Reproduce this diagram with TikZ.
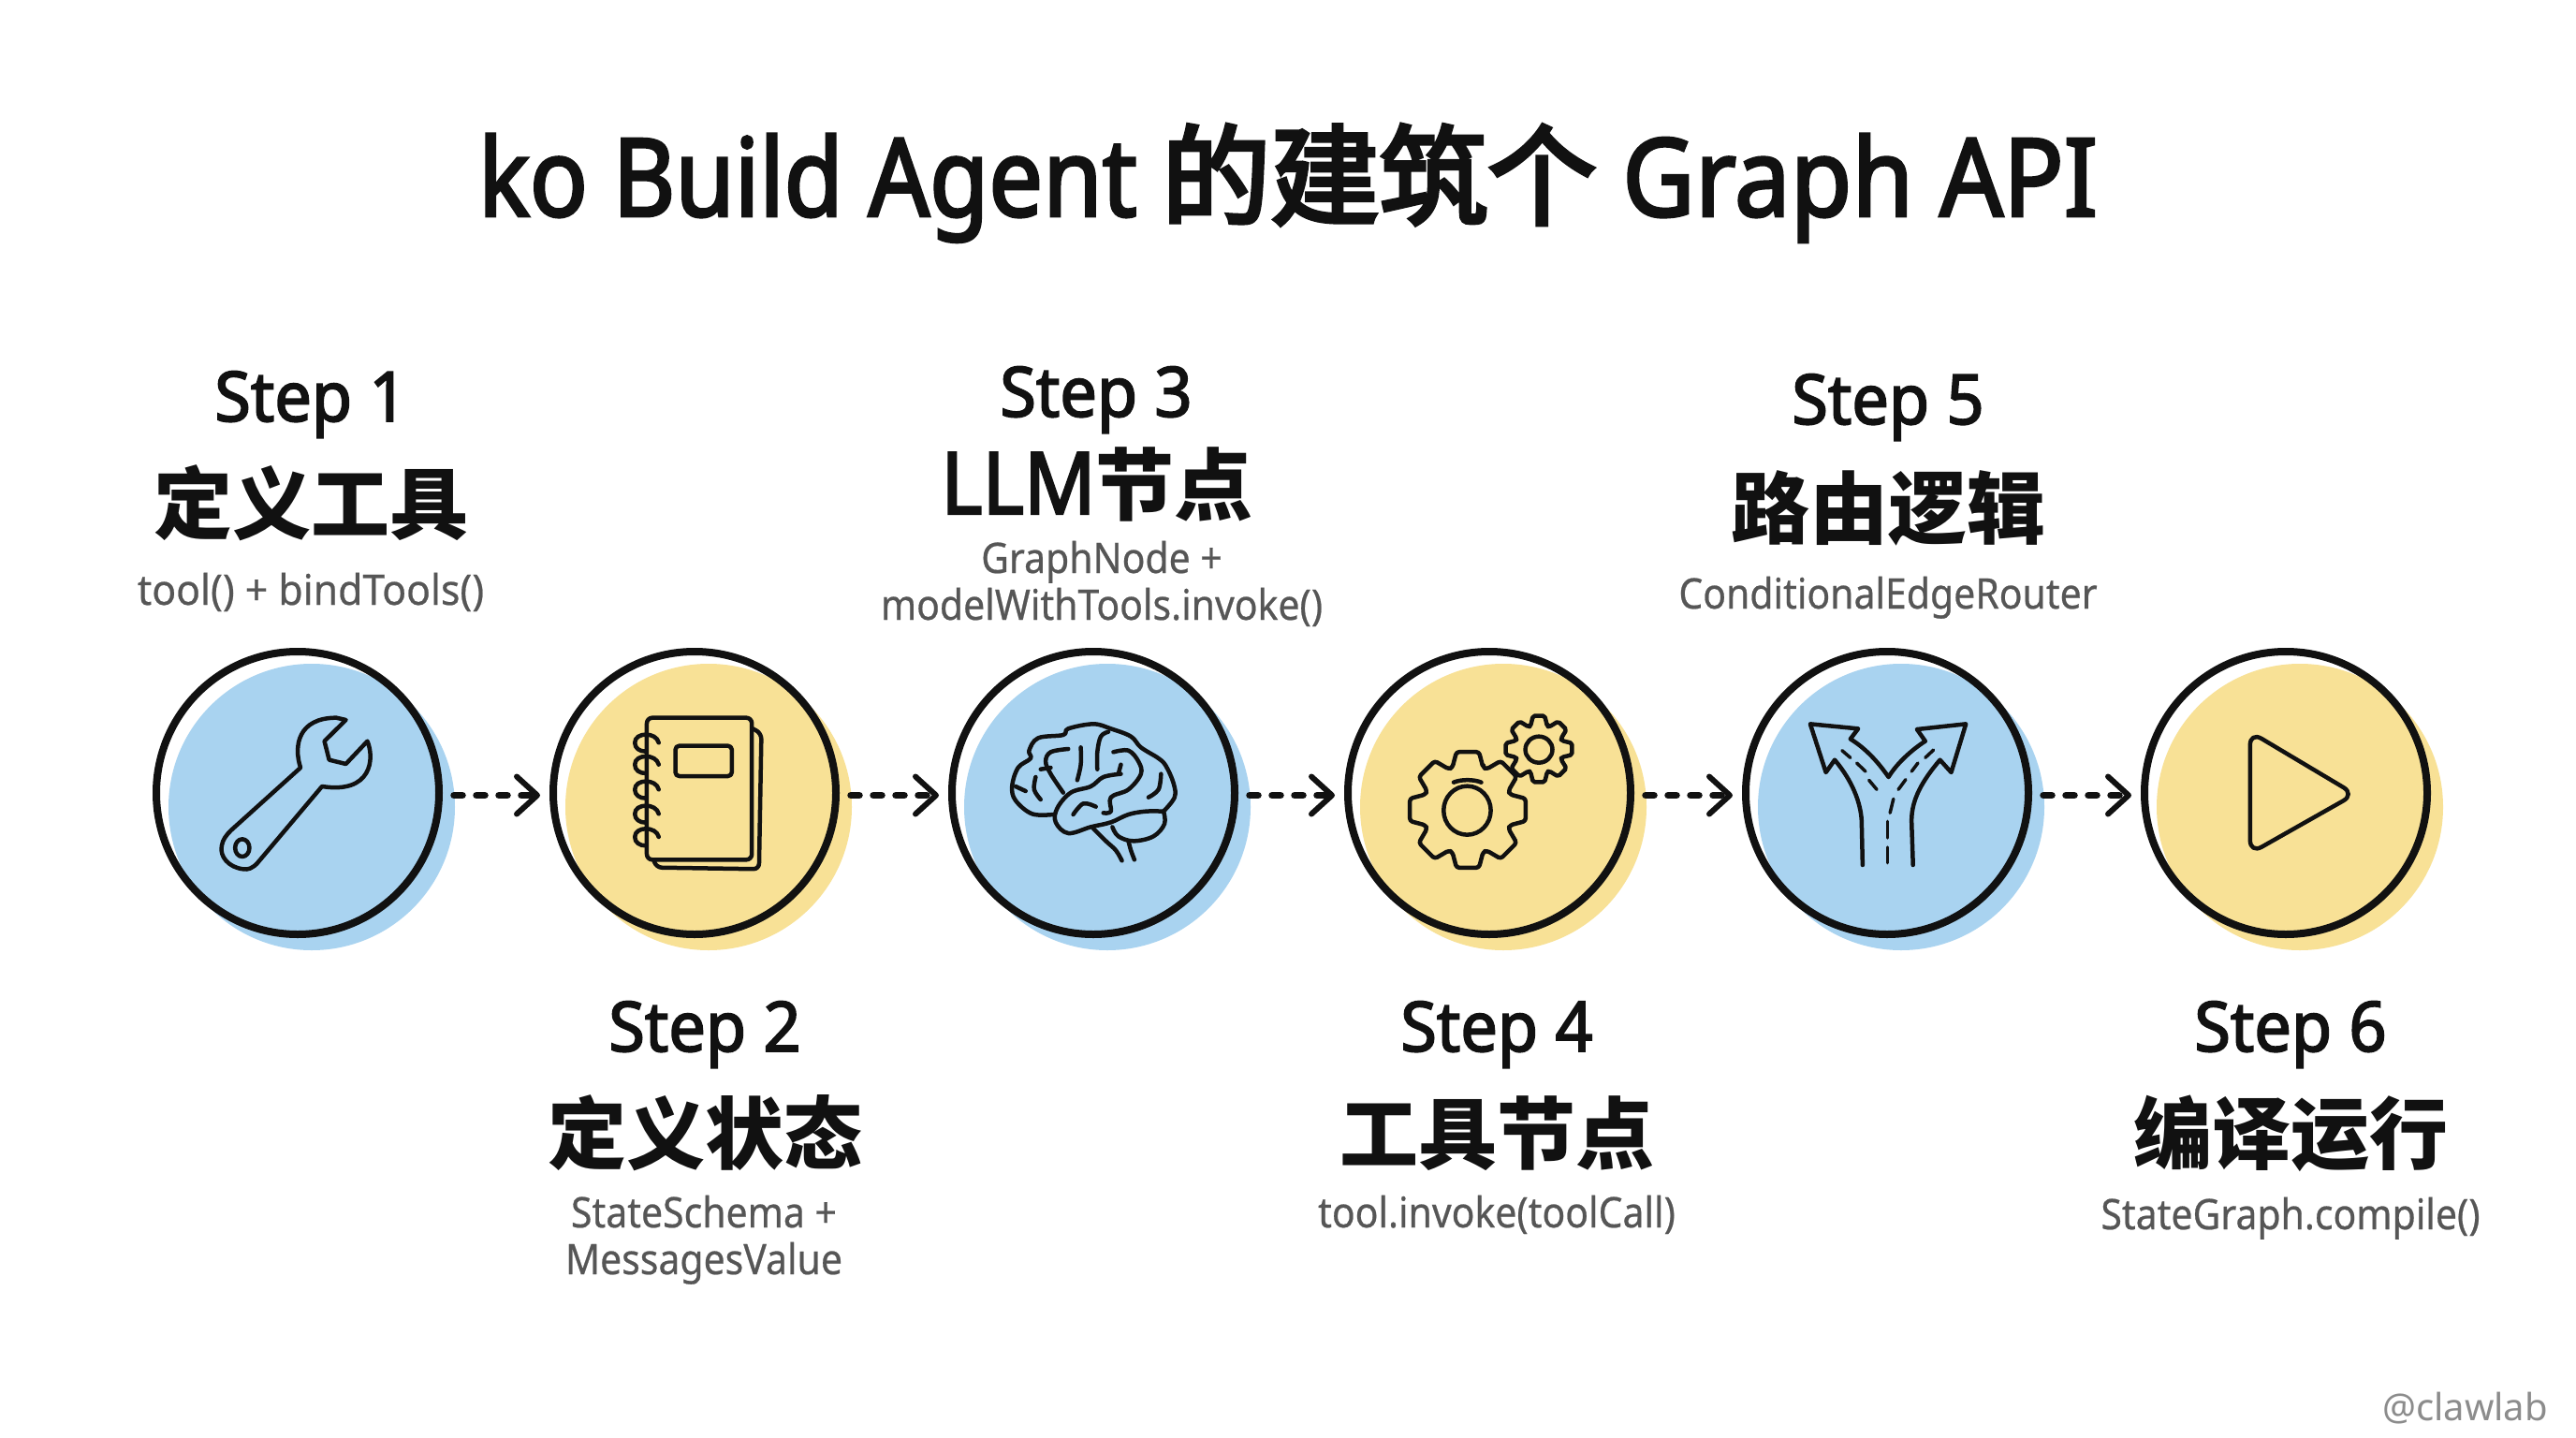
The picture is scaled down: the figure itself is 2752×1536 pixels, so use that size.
\documentclass[tikz,border=0pt]{standalone}
\usepackage{fontspec}
\usetikzlibrary{arrows.meta}
\newfontfamily\cjkfont{Noto Sans CJK SC}
\newfontfamily\cjktitle{Noto Sans CJK SC}[FakeBold=4]
\newfontfamily\headfont{Noto Sans}[FakeStretch=0.95,FakeBold=2.4]
\newfontfamily\titlefont{Noto Sans}[FakeStretch=0.885,FakeBold=2.5]
\newfontfamily\titlefontb{Noto Sans}[FakeStretch=0.92,FakeBold=2.5]
\newfontfamily\subfont{Noto Sans}[FakeStretch=0.91,FakeBold=0.5]
\newfontfamily\subfontwide{Noto Sans}[FakeStretch=0.95,FakeBold=0.5]
\newfontfamily\markfont{Noto Sans}
\definecolor{bluefill}{HTML}{A9D3F0}
\definecolor{yellowfill}{HTML}{F8E196}
\definecolor{subgray}{HTML}{565656}
\definecolor{markgray}{HTML}{8C8C8C}
\definecolor{inkblack}{HTML}{111111}
\tikzset{
  stepcircle/.style={circle,draw=inkblack,line width=8pt,minimum size=302pt,inner sep=0pt},
  flow/.style={draw=inkblack,line width=7.5pt,line cap=round,dash pattern=on 9pt off 15pt,
    shorten <=12pt,shorten >=10pt,
    -{Straight Barb[length=22pt,width=40pt,line width=6pt,round]}},
  steptitle/.style={anchor=base,text=inkblack,inner sep=0pt,font=\headfont\fontsize{74}{80}\selectfont},
  stepname/.style={anchor=base,text=inkblack,inner sep=0pt,font=\bfseries\cjkfont\fontsize{84}{90}\selectfont},
  stepnote/.style={anchor=base,text=subgray,inner sep=0pt,align=center,font=\subfont\fontsize{45}{50}\selectfont},
  icon/.style={draw=inkblack,line width=4.5pt,line join=round,line cap=round},
  frameA/.style={x=0.5102pt,y=-0.3333pt},
  frameB/.style={x=0.5357pt,y=-0.3333pt},
  frameC/.style={x=0.5230pt,y=-0.3333pt},
}
\begin{document}
\begin{tikzpicture}[x=1pt,y=-1pt]
\useasboundingbox[fill=white] (0,0) rectangle (2752,1536);
% blobs
\foreach \cx/\col in {318/bluefill,742/yellowfill,1168/bluefill,1591/yellowfill,2016/bluefill,2442/yellowfill}
  \fill[\col] (\cx+15,862) circle[radius=153];
% circles
\node[stepcircle] (c1) at (318,847) {};
\node[stepcircle] (c2) at (742,847) {};
\node[stepcircle] (c3) at (1168,847) {};
\node[stepcircle] (c4) at (1591,847) {};
\node[stepcircle] (c5) at (2016,847) {};
\node[stepcircle] (c6) at (2442,847) {};
% connectors
\draw[flow] ([yshift=-2.5pt]c1.east) -- ([yshift=-2.5pt]c2.west);
\draw[flow] ([yshift=-2.5pt]c2.east) -- ([yshift=-2.5pt]c3.west);
\draw[flow] ([yshift=-2.5pt]c3.east) -- ([yshift=-2.5pt]c4.west);
\draw[flow] ([yshift=-2.5pt]c4.east) -- ([yshift=-2.5pt]c5.west);
\draw[flow] ([yshift=-2.5pt]c5.east) -- ([yshift=-2.5pt]c6.west);
% title
\node[anchor=base,inner sep=0pt,text=inkblack] (title) at (1376,231)
  {{\titlefont\fontsize{116}{120}\selectfont ko Build Agent }{\cjktitle\fontsize{116}{120}\selectfont 的建筑个}{\titlefontb\fontsize{116}{120}\selectfont{} Graph API}};
% labels
\node[steptitle] (s1) at (332,450) {Step 1};
\node[stepname] (n1) at (332,569) {定义工具};
\node[stepnote,font=\subfontwide\fontsize{45}{50}\selectfont] (d1) at (332,646) {tool() + bindTools()};
\node[steptitle] (s2) at (753,1123) {Step 2};
\node[stepname] (n2) at (753,1242) {定义状态};
\node[stepnote] (d2) at (752,1361) {StateSchema +\\MessagesValue};
\node[steptitle] (s3) at (1171,445) {Step 3};
\node[stepname] (n3) at (1172,549) {{\titlefontb\fontsize{92}{90}\selectfont LLM}节点};
\node[stepnote] (d3) at (1177,662) {GraphNode +\\modelWithTools.invoke()};
\node[steptitle] (s4) at (1599,1123) {Step 4};
\node[stepname] (n4) at (1599,1242) {工具节点};
\node[stepnote] (d4) at (1599,1311) {tool.invoke(toolCall)};
\node[steptitle] (s5) at (2017,453) {Step 5};
\node[stepname] (n5) at (2017,574) {路由逻辑};
\node[stepnote] (d5) at (2017,650) {ConditionalEdgeRouter};
\node[steptitle] (s6) at (2447,1123) {Step 6};
\node[stepname] (n6) at (2447,1242) {编译运行};
\node[stepnote] (d6) at (2447,1313) {StateGraph.compile()};
\node[anchor=base east,inner sep=0pt,text=markgray,font=\markfont\fontsize{40}{48}\selectfont] (mark) at (2722,1517) {@clawlab};
% wrench
\begin{scope}[frameA,shift={(c1)},shift={(-349,-531)}]
\draw[icon] (235,775) .. controls (205,770) and (185,735) .. (190,700) .. controls (192,680) and (200,665) .. (210,650) -- (355,450) .. controls (340,380) and (350,290) .. (430,290) -- (450,297) -- (405,365) -- (415,425) -- (450,438) -- (495,365) .. controls (510,420) and (505,535) .. (400,510) -- (265,755) .. controls (255,772) and (245,778) .. (235,775) -- cycle;
\draw[icon] (233,707) ellipse[x radius=15,y radius=28];
\end{scope}
% notebook
\begin{scope}[frameA,shift={(c2)},shift={(-1180,-531)}]
\draw[icon,rounded corners=6pt] (1080,290) rectangle (1300,745);
\draw[icon,rounded corners=6pt] (1302,325) -- (1320,340) -- (1315,775) -- (1100,770) -- (1095,748);
\draw[icon,rounded corners=4pt] (1140,380) rectangle (1258,477);
\foreach \ry in {370,440,520,598,672}
  \draw[icon] (1105,\ry) .. controls (1100,\ry-35) and (1055,\ry-35) .. (1055,\ry) .. controls (1055,\ry+18) and (1065,\ry+28) .. (1078,\ry+28);
\end{scope}
% brain
\begin{scope}[frameB,shift={(c3)},shift={(-350,-531)}]
\draw[icon] plot[smooth,tension=0.6] coordinates {(270,600)(228,598)(195,555)(188,510)(200,450)(225,420)(222,395)(240,355)(290,345)(300,325)(350,310)(385,325)(425,350)(445,385)(480,420)(495,445)(510,500)(512,545)(490,590)};
\draw[icon] plot[smooth,tension=0.6] coordinates {(490,590)(455,590)(420,600)(385,625)(345,640)(300,660)(275,625)(278,580)(305,530)(345,510)(370,480)(405,470)};
\draw[icon] plot[smooth,tension=0.6] coordinates {(490,590)(492,630)(470,670)(430,685)(400,670)(388,640)};
\draw[icon] plot[smooth,tension=0.6] coordinates {(350,645)(375,685)(395,715)(407,748)};
\draw[icon] plot[smooth,tension=0.6] coordinates {(420,685)(425,715)(432,745)};
\draw[icon] plot[smooth,tension=0.6] coordinates {(300,390)(265,400)(255,430)(265,470)(290,530)};
\draw[icon] plot[smooth,tension=0.6] coordinates {(325,385)(325,440)(318,490)};
\draw[icon] plot[smooth,tension=0.6] coordinates {(380,335)(365,350)(358,400)(358,455)};
\draw[icon] plot[smooth,tension=0.6] coordinates {(390,400)(420,395)(440,430)(445,470)(420,520)(385,545)(385,590)(370,595)};
\draw[icon] plot[smooth,tension=0.6] coordinates {(405,440)(400,470)};
\draw[icon] plot[smooth,tension=0.6] coordinates {(235,480)(232,520)(245,552)};
\draw[icon] plot[smooth,tension=0.6] coordinates {(195,510)(215,525)};
\draw[icon] plot[smooth,tension=0.6] coordinates {(485,470)(480,520)(460,545)};
\draw[icon] plot[smooth,tension=0.6] coordinates {(310,600)(330,565)(355,575)};
\draw[icon] plot[smooth,tension=0.6] coordinates {(265,450)(245,455)};
\end{scope}
% gears
\begin{scope}[frameB,shift={(c4)},shift={(-1141,-531)}]
\draw[icon] (1097,587) ellipse[x radius=47,y radius=78];
\draw[icon] (1240,392) ellipse[x radius=27,y radius=42];
\draw[icon] (1070,497) .. controls (1085,487) and (1110,487) .. (1125,497);
\end{scope}
\begin{scope}[shift={(c4)},shift={(-23,18)}]
\draw[icon,rounded corners=3pt] (70:48pt) \foreach \a in {90,135,180,225,270,315,360,405}{ -- ({\a-20}:48pt) -- ({\a-11}:63pt) -- ({\a+11}:63pt) -- ({\a+20}:48pt)} -- cycle;
\end{scope}
\begin{scope}[shift={(c4)},shift={(53,-47)}]
\draw[icon,rounded corners=2pt] (70:26pt) \foreach \a in {90,135,180,225,270,315,360,405}{ -- ({\a-20}:26pt) -- ({\a-10}:36pt) -- ({\a+10}:36pt) -- ({\a+20}:26pt)} -- cycle;
\end{scope}
% fork
\begin{scope}[frameC,shift={(c5)},shift={(-337,-531)}]
\draw[icon] (287,762) -- (285,620) .. controls (283,560) and (265,490) .. (230,425) -- (212,465) -- (180,310) -- (278,325) -- (262,358) .. controls (295,390) and (320,435) .. (340,480)
  .. controls (355,440) and (385,395) .. (415,365) -- (398,327) -- (498,310) -- (468,465) -- (445,425) .. controls (410,490) and (387,550) .. (387,620) -- (390,762);
\foreach \ax/\ay/\bx/\by in {338/705/338/755,338/622/338/675,350/550/343/595,300/490/316/520,275/435/293/462,245/395/262/418,375/488/360/520,400/435/387/462,432/393/415/418}
  \draw[icon,line width=3.5pt] (\ax,\ay) -- (\bx,\by);
\end{scope}
% play
\begin{scope}[frameC,shift={(c6)},shift={(-1151,-531)}]
\draw[icon,rounded corners=14pt] (1078,335) -- (1292,535) -- (1078,725) -- cycle;
\end{scope}
\end{tikzpicture}
\end{document}
